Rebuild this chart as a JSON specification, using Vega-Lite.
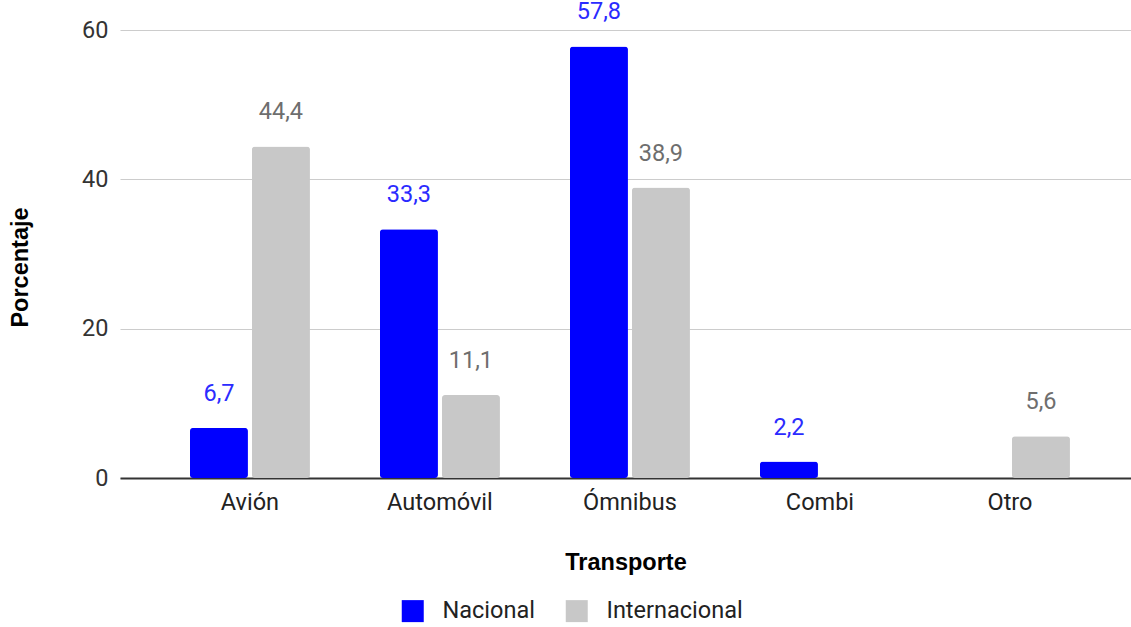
{
  "$schema": "https://vega.github.io/schema/vega-lite/v6.json",
  "width": 1011,
  "height": 448,
  "autosize": {"type": "none"},
  "padding": {"left": 120, "top": 30, "right": 0, "bottom": 149},
  "background": "white",
  "config": {
    "view": {"stroke": null},
    "font": "Roboto",
    "locale": {"number": {"decimal": ",", "thousands": ".", "grouping": [3], "currency": ["", "€"]}}
  },
  "data": {
    "values": [
      {"Transporte": "Avión", "Tipo": "Nacional", "Porcentaje": 6.7},
      {"Transporte": "Avión", "Tipo": "Internacional", "Porcentaje": 44.4},
      {"Transporte": "Automóvil", "Tipo": "Nacional", "Porcentaje": 33.3},
      {"Transporte": "Automóvil", "Tipo": "Internacional", "Porcentaje": 11.1},
      {"Transporte": "Ómnibus", "Tipo": "Nacional", "Porcentaje": 57.8},
      {"Transporte": "Ómnibus", "Tipo": "Internacional", "Porcentaje": 38.9},
      {"Transporte": "Combi", "Tipo": "Nacional", "Porcentaje": 2.2},
      {"Transporte": "Otro", "Tipo": "Internacional", "Porcentaje": 5.6}
    ]
  },
  "encoding": {
    "x": {
      "field": "Transporte", "type": "nominal", "sort": null,
      "scale": {"paddingInner": 0.36842, "paddingOuter": 0.3447, "align": 0.534},
      "axis": {
        "title": "Transporte", "labelAngle": 0, "labelFontSize": 23.5, "labelColor": "#222222",
        "labelPadding": 12, "ticks": false, "domainColor": "#333333", "domainWidth": 2,
        "titleFont": "Liberation Sans", "titleFontSize": 23.5, "titleFontWeight": "bold", "titleColor": "#000000",
        "titleY": 91, "titleBaseline": "alphabetic"
      }
    },
    "xOffset": {"field": "Tipo", "type": "nominal", "sort": ["Nacional", "Internacional"], "scale": {"paddingInner": 0.0645, "paddingOuter": 0}},
    "y": {
      "field": "Porcentaje", "type": "quantitative",
      "scale": {"domain": [0, 60], "nice": false},
      "axis": {
        "title": "Porcentaje", "values": [0, 20, 40, 60], "labelFontSize": 23.5, "labelColor": "#333333",
        "ticks": false, "labelPadding": 12, "domain": false,
        "gridColor": "#cccccc", "gridWidth": 1.2,
        "titleFont": "Liberation Sans", "titleFontSize": 23.5, "titleFontWeight": "bold", "titleColor": "#000000",
        "titleX": -93, "titleY": 237, "titleBaseline": "alphabetic", "titleAlign": "center"
      }
    }
  },
  "layer": [
    {
      "mark": {"type": "bar", "cornerRadius": 3},
      "encoding": {
        "color": {
          "field": "Tipo", "type": "nominal",
          "scale": {"domain": ["Nacional", "Internacional"], "range": ["#0000ff", "#c8c8c8"]},
          "legend": {
            "title": null, "orient": "none", "direction": "horizontal",
            "legendX": 281, "legendY": 569,
            "symbolType": "square", "symbolSize": 484, "symbolStrokeWidth": 0,
            "labelFontSize": 23.5, "labelColor": "#222222", "labelOffset": 18,
            "columnPadding": 30
          }
        }
      }
    },
    {
      "mark": {"type": "text", "fontSize": 23.5, "dy": -27, "baseline": "alphabetic"},
      "encoding": {
        "text": {"field": "Porcentaje", "type": "quantitative", "format": ".1f"},
        "color": {
          "field": "Tipo", "type": "nominal",
          "scale": {"domain": ["Nacional", "Internacional"], "range": ["#2b2bff", "#6e6e6e"]},
          "legend": null
        }
      }
    }
  ],
  "resolve": {"scale": {"color": "independent"}}
}
